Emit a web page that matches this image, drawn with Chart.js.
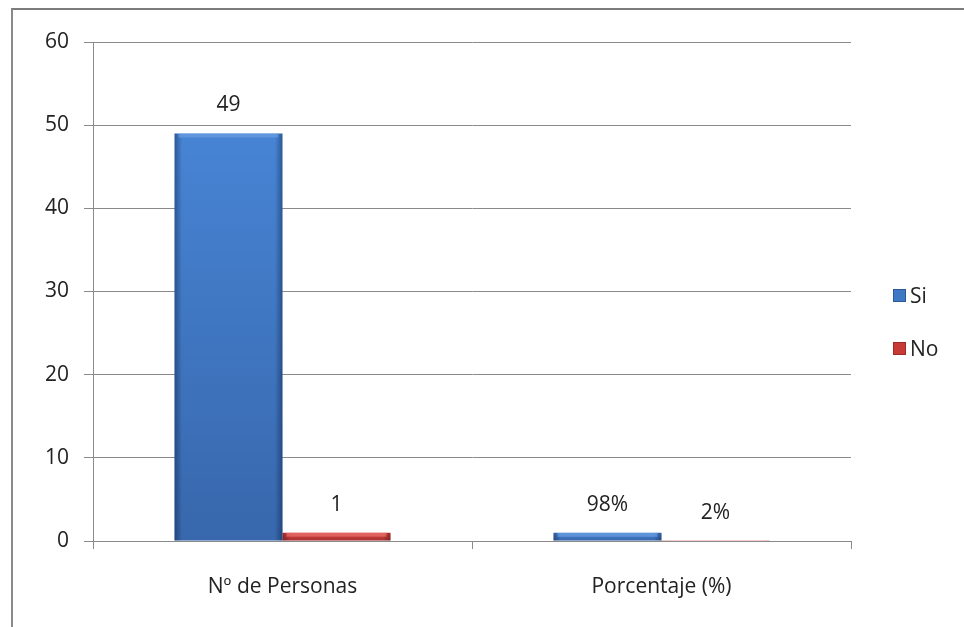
<!DOCTYPE html>
<html>
<head>
<meta charset="utf-8">
<script src="https://cdn.jsdelivr.net/npm/chart.js@4/dist/chart.umd.min.js"></script>
<style>
    html, body { margin: 0; padding: 0; background: #fff; }
    #wrap { position: relative; width: 964px; height: 627px; overflow: hidden; }
    #frame {
        position: absolute; left: 11px; top: 8px; width: 1000px; height: 700px;
        border-left: 2px solid #8a8a8a; border-top: 2px solid #7c7c7c;
        box-sizing: border-box; pointer-events: none;
    }
    .legend { position: absolute; left: 893px; font-family: "Open Sans", "DejaVu Sans", sans-serif; font-size: 21px; color: #222; }
    .legend div { position: relative; height: 53px; line-height: 24px; padding-left: 17px; }
    .legend span { position: absolute; left: 0; top: 6px; width: 13px; height: 13px; }
</style>
</head>
<body>
<div id="wrap">
    <canvas id="chart" width="964" height="627"></canvas>
    <div id="frame"></div>
    <div class="legend" id="legend" style="top:283px"></div>
</div>
<script>
// chart data
const categories = ['Nº de Personas', 'Porcentaje (%)'];
const seriesNames = ['Si', 'No'];
const siValues = [49, 0.98];
const noValues = [1, 0.02];
const siLabels = ['49', '98%'];
const noLabels = ['1', '2%'];
const yTicks = [0, 10, 20, 30, 40, 50, 60];

const FONT = '"Open Sans", "DejaVu Sans", sans-serif';

const palettes = [
    { edge: '#2c5996', main: '#4784d4', light: '#6fa2e2', swatch: '#3f78c4' },
    { edge: '#9c2a27', main: '#d8413d', light: '#ef7c79', swatch: '#c83a36' }
];

// bevel look: horizontal gradient per bar, darker toward the base
const bevelPlugin = {
    id: 'bevel',
    beforeDatasetsDraw(chart) {
        const ctx = chart.ctx;
        chart.data.datasets.forEach((ds, di) => {
            const p = palettes[di];
            chart.getDatasetMeta(di).data.forEach(el => {
                const x0 = el.x - el.width / 2;
                const x1 = el.x + el.width / 2;
                const g = ctx.createLinearGradient(x0, 0, x1, 0);
                g.addColorStop(0, p.edge);
                g.addColorStop(0.07, p.main);
                g.addColorStop(0.93, p.main);
                g.addColorStop(1, p.edge);
                el.options = Object.assign({}, el.options, { backgroundColor: g });
            });
        });
    },
    afterDatasetsDraw(chart) {
        const ctx = chart.ctx;
        chart.data.datasets.forEach((ds, di) => {
            const p = palettes[di];
            chart.getDatasetMeta(di).data.forEach(el => {
                const h = el.base - el.y;
                if (h < 3) return;
                const x0 = el.x - el.width / 2;
                ctx.save();
                const v = ctx.createLinearGradient(0, el.y, 0, el.base);
                v.addColorStop(0, 'rgba(0,0,30,0)');
                v.addColorStop(1, 'rgba(0,0,30,0.22)');
                ctx.fillStyle = v;
                ctx.fillRect(x0, el.y, el.width, h);
                ctx.fillStyle = p.light;
                ctx.globalAlpha = 0.6;
                ctx.fillRect(x0 + 4, el.y, el.width - 8, Math.min(4, h));
                ctx.restore();
            });
        });
    }
};

const valueLabelPlugin = {
    id: 'valueLabels',
    afterDatasetsDraw(chart) {
        const ctx = chart.ctx;
        ctx.save();
        ctx.font = '21px ' + FONT;
        ctx.fillStyle = '#222';
        ctx.textAlign = 'center';
        ctx.textBaseline = 'middle';
        chart.data.datasets.forEach((ds, di) => {
            chart.getDatasetMeta(di).data.forEach((el, i) => {
                ctx.fillText(ds.labels[i], el.x, el.y - 28);
            });
        });
        ctx.restore();
    }
};

new Chart(document.getElementById('chart'), {
    type: 'bar',
    data: {
        labels: categories,
        datasets: [
            { label: seriesNames[0], data: siValues, labels: siLabels, backgroundColor: palettes[0].main },
            { label: seriesNames[1], data: noValues, labels: noLabels, backgroundColor: palettes[1].main }
        ]
    },
    options: {
        responsive: false,
        animation: false,
        layout: { padding: { left: 0, top: 42, right: 113, bottom: 0 } },
        datasets: { bar: { categoryPercentage: 0.57, barPercentage: 1 } },
        plugins: { legend: { display: false }, tooltip: { enabled: false } },
        scales: {
            x: {
                grid: { display: true, drawOnChartArea: false, drawTicks: true, tickLength: 8, color: '#8a8a8a', offset: true },
                border: { display: true, color: '#8a8a8a' },
                ticks: { color: '#222', font: { family: FONT, size: 21 }, padding: 25 },
                afterFit(scale) { scale.height = 86; }
            },
            y: {
                min: 0, max: 60,
                afterBuildTicks(scale) { scale.ticks = yTicks.map(v => ({ value: v })); },
                grid: { color: '#8a8a8a', tickLength: 9 },
                border: { display: true, color: '#8a8a8a' },
                ticks: { color: '#222', font: { family: FONT, size: 21 }, padding: 15 },
                afterFit(scale) { scale.width = 93; }
            }
        }
    },
    plugins: [bevelPlugin, valueLabelPlugin]
});

document.getElementById('legend').innerHTML = seriesNames.map((n, i) =>
    `<div><span style="background:${palettes[i].swatch};box-shadow:inset 0 0 0 1px ${palettes[i].edge}"></span>${n}</div>`
).join('');
</script>
</body>
</html>
